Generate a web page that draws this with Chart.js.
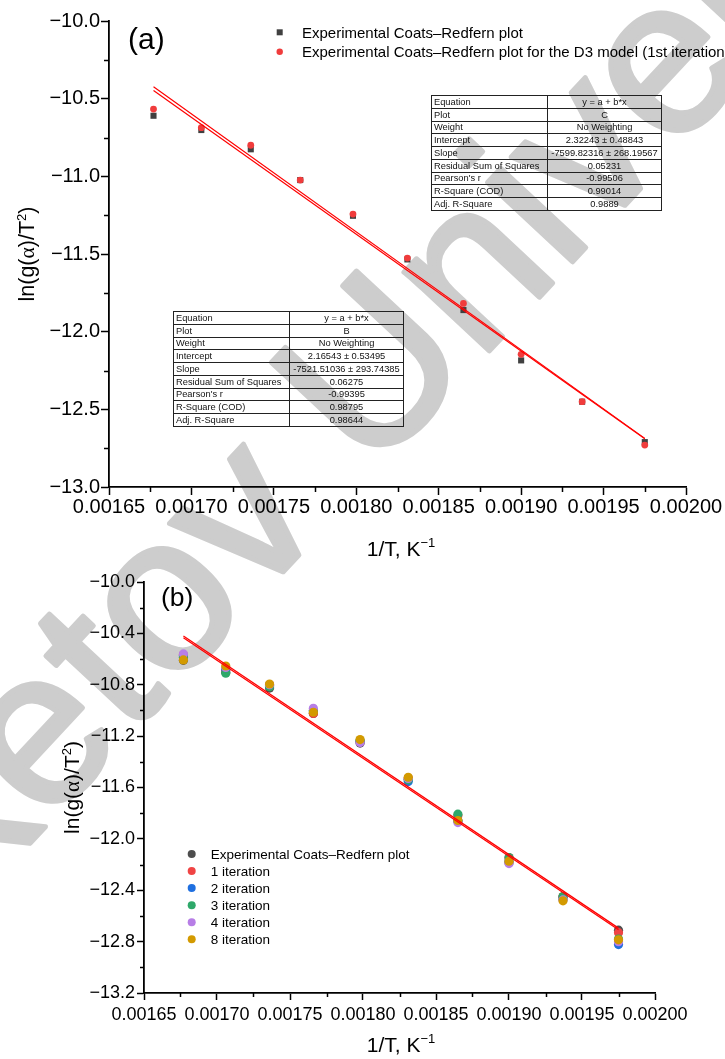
<!DOCTYPE html>
<html>
<head>
<meta charset="utf-8">
<script src="https://cdn.jsdelivr.net/npm/chart.js@4.4.1/dist/chart.umd.min.js"></script>
<style>
  html, body { margin: 0; padding: 0; background: #fff; }
  body { width: 725px; height: 1059px; position: relative; overflow: hidden;
         font-family: "Liberation Sans", Arial, sans-serif; }
  #wm { position: absolute; left: 0; top: 0; z-index: 0; }
  .box { position: absolute; left: 0; width: 725px; z-index: 1; }
  #boxA { top: 0; height: 555px; }
  #boxB { top: 560px; height: 499px; }
  #ovl { position: absolute; left: 0; top: 0; z-index: 2; pointer-events: none; }
  table.fit { position: absolute; z-index: 2; border-collapse: collapse; table-layout: fixed;
              font-size: 9.3px; border: 1.5px solid #222; height: 116px; }
  table.fit td { border: 1px solid #222; padding: 0 0 0 2px; line-height: 10px; white-space: nowrap;
                 overflow: hidden; color: #111; }
  table.fit td.v { text-align: center; padding: 0; }
</style>
</head>
<body>
<svg id="wm" width="725" height="1059"></svg>
<div class="box" id="boxA"><canvas id="cA" width="725" height="555"></canvas></div>
<div class="box" id="boxB"><canvas id="cB" width="725" height="499"></canvas></div>
<table class="fit" id="tC" style="left:431px;top:95px;width:231px"></table>
<table class="fit" id="tB" style="left:173px;top:311px;width:231px"></table>
<svg id="ovl" width="725" height="1059"></svg>

<script>
// valeurs
const invT = [0.001677, 0.001706, 0.001736, 0.001766, 0.001798, 0.001831, 0.001865, 0.001900, 0.001937, 0.001975];

// (a)
const expA = [-10.610, -10.702, -10.826, -11.024, -11.254, -11.535, -11.861, -12.185, -12.451, -12.711];
const d3A  = [-10.567, -10.687, -10.800, -11.024, -11.243, -11.526, -11.818, -12.146, -12.451, -12.730];
const fitX  = [0.001677, 0.001975];
const fitCA = [-10.423, -12.687];
const fitBA = [-10.448, -12.689];

// (b)
const expB = [-10.610, -10.702, -10.826, -11.024, -11.254, -11.535, -11.861, -12.185, -12.451, -12.711];
const it1B = [-10.567, -10.687, -10.800, -11.024, -11.243, -11.526, -11.818, -12.146, -12.451, -12.730];
const it2B = [-10.575, -10.680, -10.805, -11.000, -11.240, -11.554, -11.860, -12.170, -12.470, -12.823];
const it3B = [-10.585, -10.710, -10.815, -11.005, -11.235, -11.540, -11.808, -12.145, -12.449, -12.780];
const it4B = [-10.560, -10.665, -10.800, -10.983, -11.250, -11.530, -11.873, -12.192, -12.475, -12.800];
const it8B = [-10.607, -10.654, -10.794, -11.014, -11.227, -11.520, -11.857, -12.174, -12.482, -12.786];
const fit1B = [-10.420, -12.695];
const fit2B = [-10.434, -12.707];

// ticks
const xTicks = [0.00165, 0.00170, 0.00175, 0.00180, 0.00185, 0.00190, 0.00195, 0.00200];
const xTickLabels = ["0.00165", "0.00170", "0.00175", "0.00180", "0.00185", "0.00190", "0.00195", "0.00200"];
const yTicksA = [-13.0, -12.5, -12.0, -11.5, -11.0, -10.5, -10.0];
const yTickLabelsA = ["\u221213.0", "\u221212.5", "\u221212.0", "\u221211.5", "\u221211.0", "\u221210.5", "\u221210.0"];
const yTicksB = [-13.2, -12.8, -12.4, -12.0, -11.6, -11.2, -10.8, -10.4, -10.0];
const yTickLabelsB = ["\u221213.2", "\u221212.8", "\u221212.4", "\u221212.0", "\u221211.6", "\u221211.2", "\u221210.8", "\u221210.4", "\u221210.0"];

// tableaux d'ajustement
const fitKeys = ["Equation", "Plot", "Weight", "Intercept", "Slope", "Residual Sum of Squares", "Pearson's r", "R-Square (COD)", "Adj. R-Square"];
const fitValsC = ["y = a + b*x", "C", "No Weighting", "2.32243 \u00b1 0.48843", "-7599.82316 \u00b1 268.19567", "0.05231", "-0.99506", "0.99014", "0.9889"];
const fitValsB = ["y = a + b*x", "B", "No Weighting", "2.16543 \u00b1 0.53495", "-7521.51036 \u00b1 293.74385", "0.06275", "-0.99395", "0.98795", "0.98644"];

// séries / légendes
const labelsA = ["Experimental Coats\u2013Redfern plot", "Experimental Coats\u2013Redfern plot for the D3 model (1st iteration)"];
const colorsA = ["#404040", "#f03c3c"];
const labelsB = ["Experimental Coats\u2013Redfern plot", "1 iteration", "2 iteration", "3 iteration", "4 iteration", "8 iteration"];
const colorsB = ["#4d4d4d", "#f04444", "#1f6fe0", "#2ea86a", "#b77ee6", "#d39a00"];

const FONT = '"Liberation Sans", Arial, sans-serif';
const pts = (xs, ys) => xs.map((x, i) => ({ x, y: ys[i] }));

// petits tirets entre les graduations principales
const minorTicks = {
  id: "minorTicks",
  afterDraw(chart, args, opts) {
    const ctx = chart.ctx, xs = chart.scales.x, ys = chart.scales.y;
    ctx.save();
    ctx.strokeStyle = "#000";
    ctx.lineWidth = 1.5;
    const xt = xs.ticks.map(t => t.value);
    for (let i = 0; i < xt.length - 1; i++) {
      const px = Math.round(xs.getPixelForValue((xt[i] + xt[i + 1]) / 2)) + 0.5;
      ctx.beginPath(); ctx.moveTo(px, xs.top); ctx.lineTo(px, xs.top + opts.len); ctx.stroke();
    }
    const yt = ys.ticks.map(t => t.value);
    for (let i = 0; i < yt.length - 1; i++) {
      const py = Math.round(ys.getPixelForValue((yt[i] + yt[i + 1]) / 2)) + 0.5;
      ctx.beginPath(); ctx.moveTo(ys.right, py); ctx.lineTo(ys.right - opts.len, py); ctx.stroke();
    }
    ctx.restore();
  }
};

function scalesFor(o) {
  return {
    x: {
      type: "linear", min: 0.00165, max: 0.002,
      afterBuildTicks: s => { s.ticks = xTicks.map(v => ({ value: v })); },
      afterFit: s => { s.height = o.xh; },
      ticks: { callback: (v, i) => xTickLabels[i], font: { family: FONT, size: o.fs }, color: "#000",
               padding: o.xpad, maxRotation: 0, autoSkip: false },
      grid: { drawOnChartArea: false, tickLength: o.tl, tickColor: "#000", tickWidth: 1.5 },
      border: { color: "#000", width: 1.8 }
    },
    y: {
      type: "linear", min: o.ymin, max: -10,
      afterBuildTicks: s => { s.ticks = o.yt.map(v => ({ value: v })); },
      afterFit: s => { s.width = o.yw; },
      ticks: { callback: (v, i) => o.yl[i], font: { family: FONT, size: o.fs }, color: "#000",
               padding: o.ypad, autoSkip: false },
      grid: { drawOnChartArea: false, tickLength: o.tl, tickColor: "#000", tickWidth: 1.5 },
      border: { color: "#000", width: 1.8 }
    }
  };
}

const baseOpts = { responsive: false, animation: false, events: [] };

new Chart(document.getElementById("cA"), {
  type: "scatter",
  data: { datasets: [
    { label: "fit C", data: pts(fitX, fitCA), showLine: true, borderColor: "#ff0000", borderWidth: 1.2, pointRadius: 0, order: 0 },
    { label: "fit B", data: pts(fitX, fitBA), showLine: true, borderColor: "#ff0000", borderWidth: 1.2, pointRadius: 0, order: 0 },
    { label: labelsA[1], data: pts(invT, d3A), backgroundColor: colorsA[1], borderWidth: 0, pointRadius: 3.4, order: 1 },
    { label: labelsA[0], data: pts(invT, expA), pointStyle: "rect", backgroundColor: colorsA[0], borderWidth: 0, pointRadius: 4.3, order: 2 }
  ]},
  options: Object.assign({}, baseOpts, {
    layout: { padding: { left: 0, right: 39, top: 21, bottom: 0 } },
    plugins: { legend: { display: false }, tooltip: { enabled: false }, minorTicks: { len: 5 } },
    scales: scalesFor({ xh: 68, yw: 109, fs: 20, tl: 8, xpad: 0, ypad: 1, ymin: -13, yt: yTicksA, yl: yTickLabelsA })
  }),
  plugins: [minorTicks]
});

const seriesB = [expB, it1B, it2B, it3B, it4B, it8B];
const orderB = [6, 5, 4, 3, 2, 1];
new Chart(document.getElementById("cB"), {
  type: "scatter",
  data: { datasets: [
    { label: "fit 1", data: pts(fitX, fit1B), showLine: true, borderColor: "#ff0000", borderWidth: 1.3, pointRadius: 0, order: 0 },
    { label: "fit 2", data: pts(fitX, fit2B), showLine: true, borderColor: "#ff0000", borderWidth: 1.3, pointRadius: 0, order: 0 }
  ].concat(seriesB.map((s, k) => ({
    label: labelsB[k], data: pts(invT, s), backgroundColor: colorsB[k], borderWidth: 0, pointRadius: 4.6, order: orderB[k]
  }))) },
  options: Object.assign({}, baseOpts, {
    layout: { padding: { left: 0, right: 70, top: 22, bottom: 0 } },
    plugins: { legend: { display: false }, tooltip: { enabled: false }, minorTicks: { len: 4 } },
    scales: scalesFor({ xh: 66, yw: 144, fs: 18, tl: 7, xpad: 4, ypad: 2, ymin: -13.2, yt: yTicksB, yl: yTickLabelsB })
  }),
  plugins: [minorTicks]
});

// tableaux
function fillTable(id, vals) {
  const t = document.getElementById(id);
  let h = '<colgroup><col style="width:116px"><col></colgroup>';
  fitKeys.forEach((k, i) => { h += "<tr><td>" + k + '</td><td class="v">' + vals[i] + "</td></tr>"; });
  t.innerHTML = h;
}
fillTable("tC", fitValsC);
fillTable("tB", fitValsB);

// textes et légendes (SVG)
const NS = "http://www.w3.org/2000/svg";
const ovl = document.getElementById("ovl");
function el(parent, tag, attrs, text) {
  const e = document.createElementNS(NS, tag);
  for (const k in attrs) e.setAttribute(k, attrs[k]);
  if (text !== undefined) e.textContent = text;
  parent.appendChild(e);
  return e;
}
ovl.innerHTML =
  '<g font-family=\'' + FONT + '\' fill="#000">' +
  '<text x="128" y="48.5" font-size="30">(a)</text>' +
  '<text x="161" y="606" font-size="26.5">(b)</text>' +
  '<text x="401" y="556" text-anchor="middle" font-size="21">1/T, K<tspan font-size="13" dy="-9">\u22121</tspan></text>' +
  '<text x="401" y="1052" text-anchor="middle" font-size="21">1/T, K<tspan font-size="13" dy="-9">\u22121</tspan></text>' +
  '<text transform="translate(34,254) rotate(-90)" text-anchor="middle" font-size="21.5">ln(g(<tspan font-family="Liberation Serif">\u03b1</tspan>)/T<tspan font-size="13" dy="-8">2</tspan><tspan dy="8">)</tspan></text>' +
  '<text transform="translate(78.7,787.5) rotate(-90)" text-anchor="middle" font-size="21">ln(g(<tspan font-family="Liberation Serif">\u03b1</tspan>)/T<tspan font-size="13" dy="-8">2</tspan><tspan dy="8">)</tspan></text>' +
  '</g>';

// légende (a)
el(ovl, "rect", { x: 276.7, y: 29.3, width: 6, height: 6, fill: colorsA[0] });
el(ovl, "circle", { cx: 279.7, cy: 51.7, r: 3.2, fill: colorsA[1] });
labelsA.forEach((l, i) => el(ovl, "text", { x: 302, y: [37.7, 57][i], "font-size": 15, "font-family": FONT }, l));

// légende (b)
labelsB.forEach((l, i) => {
  const cy = 854 + i * 17.05;
  el(ovl, "circle", { cx: 191.7, cy, r: 4, fill: colorsB[i] });
  el(ovl, "text", { x: 210.7, y: cy + 5, "font-size": 13.5, "font-family": FONT }, l);
});

// filigrane
const wm = document.getElementById("wm");
el(wm, "text", { x: 408, y: 438, "text-anchor": "middle", "font-size": 220, fill: "#cdcdcd",
                 stroke: "#cdcdcd", "stroke-width": 5, "stroke-linejoin": "round",
                 "font-family": FONT, transform: "rotate(-47 408 438)" }, "Buketov University");
</script>
</body>
</html>
